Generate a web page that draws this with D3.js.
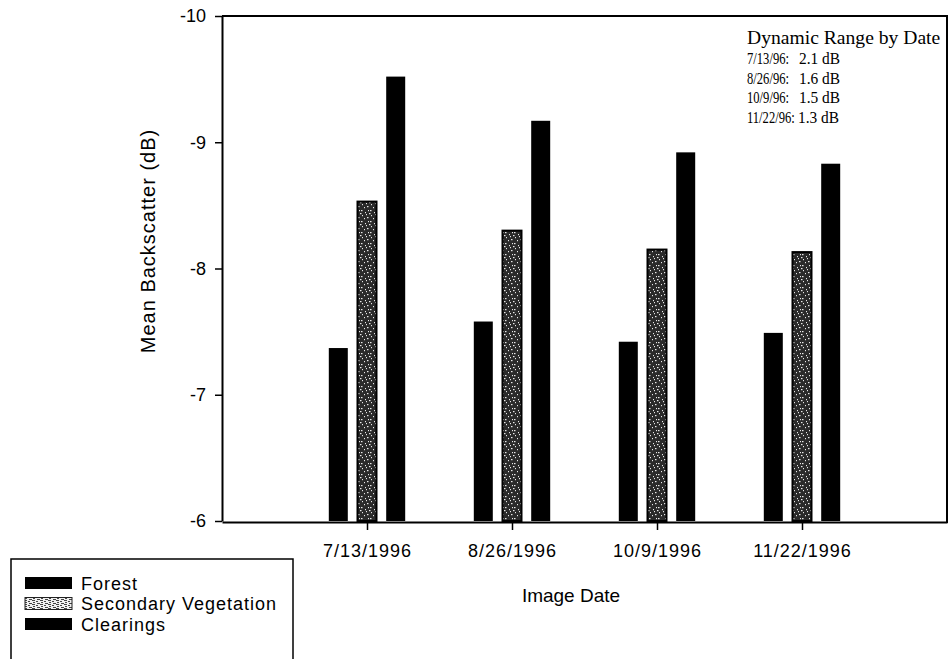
<!DOCTYPE html>
<html>
<head>
<meta charset="utf-8">
<script src="https://cdn.jsdelivr.net/npm/d3@7/dist/d3.min.js"></script>
<style>
  html, body { margin: 0; padding: 0; background: #fff; }
  svg { display: block; }
  text { fill: #000; }
</style>
</head>
<body>
<script>
// Mean backscatter per land-cover class for each image date
const dates = ["7/13/1996", "8/26/1996", "10/9/1996", "11/22/1996"];
const seriesNames = ["Forest", "Secondary Vegetation", "Clearings"];
const forest = [-7.37, -7.58, -7.42, -7.49];
const secondary = [-8.53, -8.30, -8.15, -8.13];
const clearings = [-9.52, -9.17, -8.92, -8.83];
const yTicks = [-10, -9, -8, -7, -6];
const rangeTitle = "Dynamic Range by Date";
const rangeDates = ["7/13/96:", "8/26/96:", "10/9/96:", "11/22/96:"];
const rangeValues = ["2.1 dB", "1.6 dB", "1.5 dB", "1.3 dB"];

const W = 948, H = 659;
const plot = { left: 222, right: 947, top: 16, bottom: 521 };
const sans = "Liberation Sans, Arial, sans-serif";
const serif = "Liberation Serif, Times New Roman, serif";

const svg = d3.select("body").append("svg")
  .attr("width", W).attr("height", H);

// Stippled fills for the secondary vegetation class
const defs = svg.append("defs");
const speck = defs.append("pattern")
  .attr("id", "speck").attr("patternUnits", "userSpaceOnUse")
  .attr("width", 9).attr("height", 11);
speck.append("rect").attr("width", 9).attr("height", 11).attr("fill", "#2a2a2a");
[[1,1],[5,3],[2,6],[7,8],[4,9],[8,1],[0,4],[6,5]].forEach(([x, y], i) => {
  speck.append("rect").attr("x", x).attr("y", y)
    .attr("width", i % 3 === 0 ? 1.5 : 1).attr("height", 1.2)
    .attr("fill", "#e8e8e8");
});
const speckLight = defs.append("pattern")
  .attr("id", "speckLight").attr("patternUnits", "userSpaceOnUse")
  .attr("width", 8).attr("height", 4);
speckLight.append("rect").attr("width", 8).attr("height", 4).attr("fill", "#f0f0f0");
[[0,0,3],[4,1,2],[1,2,2],[5,3,3]].forEach(([x, y, w]) => {
  speckLight.append("rect").attr("x", x).attr("y", y)
    .attr("width", w).attr("height", 1).attr("fill", "#444");
});

const x = d3.scalePoint().domain(dates).range([plot.left, plot.right]).padding(1);
const y = d3.scaleLinear().domain([-6, -10]).range([plot.bottom, plot.top]);
const inner = d3.scaleBand().domain(seriesNames).range([-38.2, 38.2]).paddingInner(0.338);

const fills = {
  "Forest": "#000",
  "Secondary Vegetation": "url(#speck)",
  "Clearings": "#000"
};
const values = {
  "Forest": forest,
  "Secondary Vegetation": secondary,
  "Clearings": clearings
};

// Bars
const rows = [];
seriesNames.forEach(s => dates.forEach((d, i) => rows.push({ s, d, v: values[s][i] })));
svg.append("g").selectAll("rect").data(rows).join("rect")
  .attr("x", r => x(r.d) + inner(r.s))
  .attr("width", inner.bandwidth())
  .attr("y", r => y(r.v))
  .attr("height", r => y(-6) - y(r.v))
  .attr("fill", r => fills[r.s])
  .attr("stroke", r => r.s === "Secondary Vegetation" ? "#000" : "none")
  .attr("stroke-width", 2);

// Frame: top and right edges
svg.append("path")
  .attr("d", `M${plot.left},${plot.top}H${plot.right}V${plot.bottom + 2}`)
  .attr("fill", "none").attr("stroke", "#000").attr("stroke-width", 2);

// Y axis
const yAxis = svg.append("g")
  .attr("transform", `translate(${plot.left},0)`)
  .call(d3.axisLeft(y).tickValues(yTicks).tickFormat(d => String(d))
    .tickSizeInner(7).tickSizeOuter(0).tickPadding(9));
yAxis.select(".domain").attr("stroke-width", 2);
yAxis.selectAll(".tick line").attr("stroke-width", 1.5);
yAxis.selectAll("text")
  .attr("font-family", sans).attr("font-size", 18).attr("fill", "#000");

// X axis
const xAxis = svg.append("g")
  .attr("transform", `translate(0,${plot.bottom + 1})`)
  .call(d3.axisBottom(x).tickSizeInner(8).tickSizeOuter(0).tickPadding(14));
xAxis.select(".domain").attr("stroke-width", 2);
xAxis.selectAll(".tick line").attr("stroke-width", 1.5);
xAxis.selectAll("text")
  .attr("font-family", sans).attr("font-size", 18)
  .attr("letter-spacing", 1).attr("fill", "#000");

// Axis titles
svg.append("text")
  .attr("transform", "translate(155,241) rotate(-90)")
  .attr("text-anchor", "middle")
  .attr("font-family", sans).attr("font-size", 20).attr("letter-spacing", 1)
  .text("Mean Backscatter (dB)");

svg.append("text")
  .attr("x", 571).attr("y", 602)
  .attr("text-anchor", "middle")
  .attr("font-family", sans).attr("font-size", 19)
  .text("Image Date");

// Dynamic range note: condensed date labels, values in a second column
const note = svg.append("g")
  .attr("font-family", serif).attr("font-size", 18);
note.append("text")
  .attr("transform", "translate(747,44) scale(1.09,1)")
  .text(rangeTitle);
rangeDates.forEach((t, i) => {
  const yy = 64 + i * 19.6;
  note.append("text")
    .attr("transform", `translate(747,${yy}) scale(0.72,1)`)
    .attr("font-size", 17.5)
    .text(t);
  note.append("text")
    .attr("transform", `translate(${i === 3 ? 798 : 799},${yy}) scale(0.88,1)`)
    .attr("font-size", 17.5)
    .text(rangeValues[i]);
});

// Legend
const legend = svg.append("g");
legend.append("rect")
  .attr("x", 11).attr("y", 559).attr("width", 282).attr("height", 110)
  .attr("fill", "#fff").attr("stroke", "#000").attr("stroke-width", 1.5);
const legendFills = {
  "Forest": "#000",
  "Secondary Vegetation": "url(#speckLight)",
  "Clearings": "#000"
};
seriesNames.forEach((s, i) => {
  const cy = 583 + i * 20.5;
  legend.append("rect")
    .attr("x", 25).attr("y", cy - 6).attr("width", 47).attr("height", 12)
    .attr("fill", legendFills[s])
    .attr("stroke", s === "Secondary Vegetation" ? "#222" : "none")
    .attr("stroke-width", 1);
  legend.append("text")
    .attr("x", 81).attr("y", cy + 6.5)
    .attr("font-family", sans).attr("font-size", 18).attr("letter-spacing", 1)
    .text(s);
});
</script>
</body>
</html>
